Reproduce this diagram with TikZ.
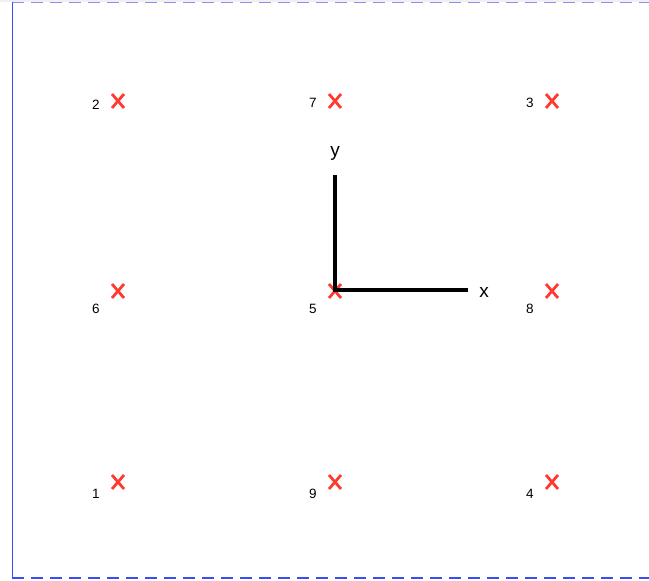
\documentclass[tikz,border=0pt]{standalone}
\usepackage{fontspec}
\setmainfont{Liberation Sans}
\definecolor{crossred}{HTML}{FF3B30}
\definecolor{frameblue}{HTML}{3A4CF5}
\definecolor{lightblue}{HTML}{8A8FF0}
\begin{document}
\begin{tikzpicture}[x=1pt,y=-1pt,
  crossmk/.style={draw=crossred,line width=2.8pt,line cap=butt},
  lbl/.style={font=\fontsize{13.5}{15}\selectfont,inner sep=0pt},
  axis/.style={line width=3.4pt,draw=black},
  axlbl/.style={font=\fontsize{19}{21}\selectfont,inner sep=0pt}]
\useasboundingbox (0,0) rectangle (649,581);
\fill[black!6] (0,0) rectangle (649,1.5);
% frame
\draw[lightblue,line width=1.3pt,dash pattern=on 12pt off 7pt] (12,2.5) -- (649,2.5);
\draw[frameblue,line width=1.3pt,dash pattern=on 12pt off 7pt] (12,578) -- (649,578);
\draw[frameblue,line width=1pt] (12,2) -- (12,579);
% crosses
\foreach \n/\x/\y in {2/118/101,7/335/101,3/552/101,6/118/291,5/335/291,8/552/291,1/118/482,9/335/482,4/552/482}{
  \coordinate (c\n) at (\x,\y);
  \draw[crossmk] ([shift={(-6,-7)}]c\n) -- ([shift={(6,7)}]c\n)
                 ([shift={(-6,7)}]c\n) -- ([shift={(6,-7)}]c\n);
}
\foreach \n/\dy in {2/4,7/2,3/2,6/18,5/18,8/18,1/12,9/12,4/12}{
  \node[lbl] (l\n) at ([shift={(-22,\dy)}]c\n) {\n};
}
% axes
\coordinate (o) at (335,290);
\coordinate (ytip) at (335,175);
\coordinate (xtip) at (468,290);
\draw[axis] (ytip) -- (o) -- (xtip);
\node[axlbl] (ylab) at (335,153) {y};
\node[axlbl] (xlab) at (484,292) {x};
\end{tikzpicture}
\end{document}
